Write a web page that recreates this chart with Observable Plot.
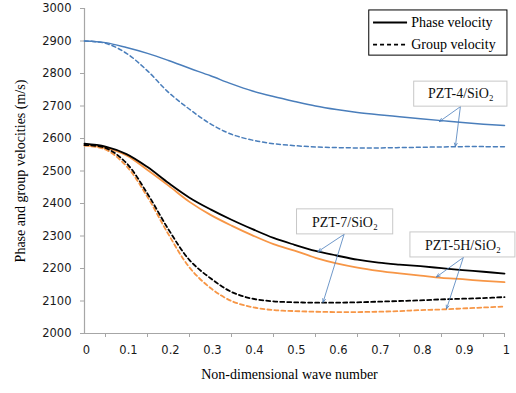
<!DOCTYPE html>
<html>
<head>
<meta charset="utf-8">
<script src="https://cdn.jsdelivr.net/npm/d3@7"></script>
<script src="https://cdn.jsdelivr.net/npm/@observablehq/plot@0.6"></script>
<style>
  html, body { margin: 0; padding: 0; background: #fff; }
  #chart svg { display: block; }
</style>
</head>
<body>
<div id="chart"></div>
<script>
// Non-dimensional wave number
const k = [0, 0.05, 0.1, 0.15, 0.2, 0.25, 0.3, 0.35, 0.4, 0.45, 0.5, 0.55, 0.6, 0.65, 0.7, 0.75, 0.8, 0.85, 0.9, 0.95, 1.0];

// Velocities (m/s)
const pzt4Phase  = [2900, 2895, 2880, 2862, 2840, 2816, 2793, 2768, 2746, 2729, 2714, 2700, 2689, 2680, 2673, 2667, 2661, 2655, 2649, 2644, 2640];
const pzt4Group  = [2900, 2893, 2862, 2808, 2742, 2690, 2645, 2613, 2595, 2584, 2578, 2574, 2572, 2571, 2571, 2572, 2573, 2574, 2575, 2575, 2575];
const pzt7Phase  = [2584, 2575, 2552, 2512, 2463, 2418, 2382, 2350, 2321, 2294, 2273, 2254, 2240, 2227, 2218, 2212, 2207, 2201, 2195, 2190, 2184];
const pzt7Group  = [2580, 2571, 2524, 2430, 2320, 2226, 2170, 2128, 2107, 2099, 2096, 2095, 2095, 2096, 2098, 2100, 2102, 2105, 2107, 2109, 2112];
const pzt5hPhase = [2579, 2571, 2548, 2503, 2455, 2405, 2365, 2332, 2302, 2275, 2255, 2233, 2216, 2203, 2193, 2185, 2178, 2171, 2167, 2162, 2158];
const pzt5hGroup = [2578, 2566, 2515, 2420, 2305, 2203, 2140, 2100, 2081, 2072, 2069, 2067, 2066, 2066, 2067, 2069, 2072, 2074, 2077, 2080, 2083];

const yTicks = [2000, 2100, 2200, 2300, 2400, 2500, 2600, 2700, 2800, 2900, 3000];
const xLabels = [0, 0.1, 0.2, 0.3, 0.4, 0.5, 0.6, 0.7, 0.8, 0.9, 1];
const xTickMarks = [0.05, 0.15, 0.25, 0.35, 0.45, 0.55, 0.65, 0.75, 0.85, 0.95, 1];

const colors = {pzt4: "#4A7EBB", pzt7: "#000000", pzt5h: "#F79646"};

const seriesList = [
  {name: "pzt4", kind: "phase", values: pzt4Phase},
  {name: "pzt4", kind: "group", values: pzt4Group},
  {name: "pzt5h", kind: "phase", values: pzt5hPhase},
  {name: "pzt5h", kind: "group", values: pzt5hGroup},
  {name: "pzt7", kind: "phase", values: pzt7Phase},
  {name: "pzt7", kind: "group", values: pzt7Group}
];

// Annotation boxes (data coordinates)
const labels = [
  {text: "PZT-4/SiO₂", x1: 0.785, x2: 1.007, y1: 2775, y2: 2698, cx: 0.896, cy: 2737},
  {text: "PZT-7/SiO₂", x1: 0.506, x2: 0.735, y1: 2382, y2: 2305, cx: 0.62, cy: 2343},
  {text: "PZT-5H/SiO₂", x1: 0.776, x2: 1.026, y1: 2311, y2: 2234, cx: 0.901, cy: 2272}
];
const arrows = [
  {x1: 0.895, y1: 2698, x2: 0.845, y2: 2652},
  {x1: 0.895, y1: 2698, x2: 0.883, y2: 2575},
  {x1: 0.618, y1: 2305, x2: 0.556, y2: 2252},
  {x1: 0.618, y1: 2305, x2: 0.568, y2: 2096},
  {x1: 0.902, y1: 2234, x2: 0.838, y2: 2174},
  {x1: 0.902, y1: 2234, x2: 0.862, y2: 2076}
];
// Legend (data coordinates)
const legendBox = [{x1: 0.678, x2: 1.007, y1: 2994, y2: 2855}];
const legendItems = [
  {label: "Phase velocity", dash: null, y: 2957},
  {label: "Group velocity", dash: "4,3", y: 2889}
];

const rows = [];
for (const s of seriesList) {
  s.values.forEach((v, i) => rows.push({k: k[i], v, name: s.name, kind: s.kind}));
}

const serif = "'Liberation Serif', 'DejaVu Serif', serif";
const axisGray = "#A6A6A6";

const lineMarks = seriesList.map(s => Plot.line(rows.filter(r => r.name === s.name && r.kind === s.kind), {
  x: "k", y: "v",
  stroke: colors[s.name],
  strokeWidth: s.name === "pzt4" ? 1.5 : 1.8,
  strokeDasharray: s.kind === "group" ? "4,3" : null,
  curve: "catmull-rom"
}));

const chart = Plot.plot({
  width: 516,
  height: 393,
  marginLeft: 84,
  marginRight: 12,
  marginTop: 8,
  marginBottom: 60,
  style: {fontFamily: "'DejaVu Sans', sans-serif", fontSize: "11.5px", background: "#fff", color: "#1a1a1a"},
  x: {domain: [0, 1]},
  y: {domain: [2000, 3000]},
  marks: [
    Plot.ruleX([0], {stroke: axisGray, strokeWidth: 1.2}),
    Plot.ruleY([2000], {stroke: axisGray, strokeWidth: 1.2}),
    Plot.axisY({ticks: yTicks, tickSize: 4, tickPadding: 9, tickFormat: d => String(d), stroke: axisGray, fill: "#1a1a1a", label: null, fontSize: 11.5}),
    Plot.axisX({ticks: xTickMarks, tickSize: 4, tickFormat: () => "", stroke: axisGray, label: null}),
    Plot.axisX({ticks: xLabels, tickSize: 0, tickPadding: 12, dx: 2, tickFormat: d => String(d), fill: "#1a1a1a", label: null, fontSize: 11.5}),
    ...lineMarks,
    // annotation arrows
    Plot.arrow(arrows, {x1: "x1", y1: "y1", x2: "x2", y2: "y2", stroke: colors.pzt4, strokeWidth: 0.8, headLength: 7, headAngle: 45}),
    // annotation boxes
    Plot.rect(labels, {x1: "x1", x2: "x2", y1: "y1", y2: "y2", fill: "#fff", stroke: "#C8C8C8", strokeWidth: 1}),
    Plot.text(labels, {x: "cx", y: "cy", text: "text", fontFamily: serif, fontSize: 14, fill: "#111"}),
    // legend
    Plot.rect(legendBox, {x1: "x1", x2: "x2", y1: "y1", y2: "y2", fill: "#fff", stroke: "#000", strokeWidth: 1}),
    Plot.link(legendItems.filter(d => !d.dash), {x1: 0.687, x2: 0.768, y1: "y", y2: "y", stroke: "#000", strokeWidth: 1.8}),
    Plot.link(legendItems.filter(d => d.dash), {x1: 0.687, x2: 0.768, y1: "y", y2: "y", stroke: "#000", strokeWidth: 1.8, strokeDasharray: "4,3"}),
    Plot.text(legendItems, {x: 0.778, y: "y", text: "label", textAnchor: "start", fontFamily: serif, fontSize: 14, fill: "#000"}),
    // axis titles
    Plot.text(["Phase and group velocities (m/s)"], {frameAnchor: "left", textAnchor: "middle", rotate: -90, dx: -64, fontFamily: serif, fontSize: 14, fill: "#000"}),
    Plot.text(["Non-dimensional wave number"], {frameAnchor: "bottom", textAnchor: "middle", dy: 45, dx: -5, fontFamily: serif, fontSize: 14, fill: "#000"})
  ]
});

document.getElementById("chart").appendChild(chart);
</script>
</body>
</html>
